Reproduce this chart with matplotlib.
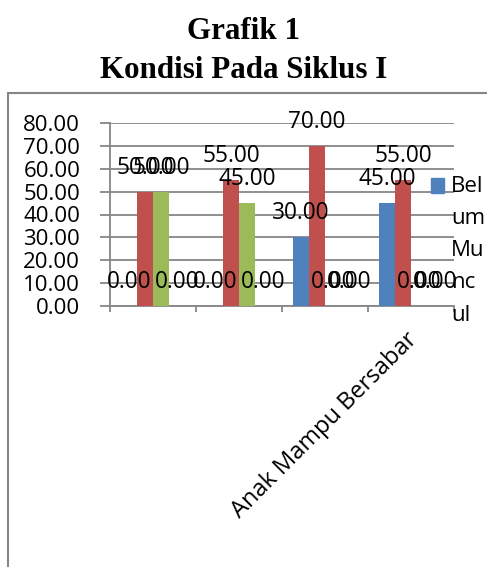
import matplotlib.pyplot as plt
import numpy as np
from matplotlib.patches import Rectangle
from matplotlib.transforms import ScaledTranslation

# data (four series, the fourth is all zero)
categories = ['', '', '', 'Anak Mampu Bersabar']
belum_muncul = [0, 0, 30, 45]
series_2 = [50, 55, 70, 55]
series_3 = [50, 45, 0, 0]
series_4 = [0, 0, 0, 0]
legend_lines = ['Bel', 'um', 'Mu', 'nc', 'ul']
y_ticks = [0, 10, 20, 30, 40, 50, 60, 70, 80]

colors = ['#4F81BD', '#C0504D', '#9BBB59', '#8064A2']
grid_col = '#868686'
fs = 16.3


def main():
    plt.rcParams['font.family'] = ['Open Sans', 'DejaVu Sans']

    fig = plt.figure(figsize=(4.87, 5.67), dpi=100)

    # title in serif bold
    fig.text(0.5, 1 - 39 / 567, 'Grafik 1', ha='center', va='baseline',
             family='Liberation Serif', weight='bold', fontsize=22.3)
    fig.text(0.5, 1 - 78 / 567, 'Kondisi Pada Siklus I', ha='center', va='baseline',
             family='Liberation Serif', weight='bold', fontsize=22.3)

    # chart area border
    fig.patches.append(Rectangle((8 / 487, -0.1), 1.2, 1 - 93 / 567 + 0.1,
                                 transform=fig.transFigure, fill=False,
                                 edgecolor=grid_col, linewidth=1.5))

    ax = fig.add_axes([110 / 487, 1 - 306 / 567, 344 / 487, 183 / 567])

    x = np.arange(len(categories))
    w = 0.186
    series = [belum_muncul, series_2, series_3, series_4]
    for i, vals in enumerate(series):
        pos = x + (i - 1.5) * w
        ax.bar(pos, vals, width=w, color=colors[i], zorder=3)
        for px, v in zip(pos, vals):
            ax.annotate('{:.2f}'.format(v), (px, v), xytext=(0, 24),
                        textcoords='offset pixels', ha='center', va='center',
                        fontsize=fs, zorder=4, annotation_clip=False)

    ax.set_xlim(-0.5, len(categories) - 0.5)
    ax.set_ylim(0, 80)
    ax.set_yticks(y_ticks)
    ax.set_yticklabels(['{:.2f}'.format(t) for t in y_ticks])
    ax.yaxis.grid(True, color=grid_col, linewidth=1.3, zorder=0)

    ax.set_xticks(np.arange(len(categories) + 1) - 0.5)
    ax.set_xticklabels([])
    ax.set_xticks(x, minor=True)
    ax.set_xticklabels(categories, minor=True, rotation=45, ha='right',
                       rotation_mode='anchor', fontsize=17)
    ax.tick_params(axis='x', which='minor', length=0, pad=26)
    ax.tick_params(axis='x', which='major', length=4.5, width=1.3, color=grid_col)
    ax.tick_params(axis='y', length=7, width=1.3, color=grid_col, pad=14.5, labelsize=16)
    shift = ScaledTranslation(-6 / 100, 14 / 100, fig.dpi_scale_trans)
    for lab in ax.get_xticklabels(minor=True):
        lab.set_transform(lab.get_transform() + shift)

    for s in ['top', 'right']:
        ax.spines[s].set_visible(False)
    for s in ['left', 'bottom']:
        ax.spines[s].set_color(grid_col)
        ax.spines[s].set_linewidth(1.3)

    # legend: only the first entry fits, wrapped letter groups
    fig.patches.append(Rectangle((431 / 487, 1 - 193 / 567), 13 / 487, 15 / 567,
                                 transform=fig.transFigure, color=colors[0]))
    for k, line in enumerate(legend_lines):
        fig.text(451 / 487, 1 - (186 + 32.3 * k) / 567, line, ha='left', va='center',
                 fontsize=16)

    fig.savefig('out.png', dpi=100)


if __name__ == '__main__':
    main()
